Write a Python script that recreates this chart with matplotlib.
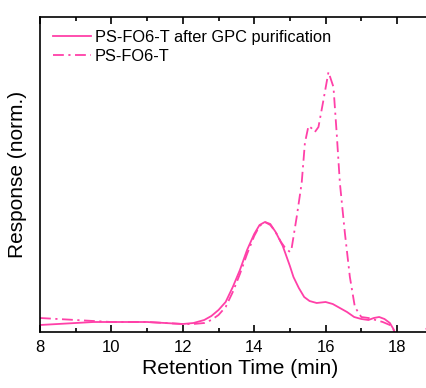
import numpy as np
import matplotlib
matplotlib.use('Agg')
import matplotlib.pyplot as plt
from matplotlib.ticker import MultipleLocator

plt.rcParams['font.family'] = ['Liberation Sans', 'DejaVu Sans']

# PS-FO6-T after GPC purification (solid)
t_gpc = [8.0, 8.5, 9.0, 9.5, 10.0, 10.5, 11.0, 11.5, 12.0, 12.3, 12.6, 12.8, 13.0, 13.2,
         13.4, 13.6, 13.8, 14.0, 14.15, 14.3, 14.45, 14.6, 14.8, 15.0, 15.1, 15.25, 15.4,
         15.55, 15.75, 16.0, 16.2, 16.4, 16.6, 16.8, 17.0, 17.2, 17.35, 17.5, 17.65, 17.8,
         17.9, 18.0, 18.3, 18.6, 18.8, 19.0]
r_gpc = [7, 8, 9, 10, 10, 10, 10, 9, 8, 9, 12, 16, 22, 30,
         45, 62, 82, 98, 107, 110, 108, 100, 86, 66, 55, 44, 35,
         31, 29, 30, 28, 24, 20, 15, 13, 12, 14, 15, 13, 9,
         3, -8, -20, -10, -2, 10]

# PS-FO6-T crude (dash-dot)
t_raw = [8.0, 8.5, 9.0, 9.5, 10.0, 10.5, 11.0, 11.5, 12.0, 12.3, 12.6, 12.8, 13.0, 13.2,
         13.4, 13.6, 13.8, 14.0, 14.15, 14.3, 14.45, 14.6, 14.75, 14.85, 15.0, 15.05, 15.19,
         15.33, 15.42, 15.52, 15.6, 15.7, 15.8, 15.94, 16.08, 16.22, 16.31, 16.4, 16.54,
         16.68, 16.82, 17.0, 17.2, 17.4, 17.6, 17.8, 17.95, 18.2, 18.6, 18.8, 19.0]
r_raw = [14, 13, 12, 11, 10, 10, 10, 9, 8, 8, 9, 12, 17, 25,
         40, 58, 78, 96, 106, 110, 107, 100, 90, 85, 80, 84, 115,
         149, 189, 206, 204, 200, 205, 232, 260, 245, 199, 149, 99,
         55, 25, 15, 14, 12, 10, 7, 0, -15, -10, 2, 12]

norm = 261.0
r_gpc = np.array(r_gpc) / norm
r_raw = np.array(r_raw) / norm

pink = '#ff40a8'

fig = plt.figure(figsize=(4.27, 3.88), dpi=100)
ax = fig.add_axes([40/427, 1 - 332/388, 400/427, 315/388])

ax.plot(t_gpc, r_gpc, '-', color=pink, lw=1.3, label='PS-FO6-T after GPC purification')
ax.plot(t_raw, r_raw, color=pink, lw=1.3, dashes=(6, 2.5, 1.2, 2.5), label='PS-FO6-T')

ax.set_xlim(8, 8 + 400/35.7)
ax.set_ylim(0, 315/norm)
ax.xaxis.set_major_locator(MultipleLocator(2))
ax.xaxis.set_minor_locator(MultipleLocator(1))
ax.tick_params(axis='x', which='both', direction='in', top=True, labelsize=12, width=1.2)
ax.tick_params(axis='x', which='major', length=5, pad=6)
ax.tick_params(axis='x', which='minor', length=3)
ax.set_yticks([])
ax.spines['right'].set_visible(False)
for s in ['left', 'top', 'bottom']:
    ax.spines[s].set_linewidth(1.2)

ax.set_xlabel('Retention Time (min)', fontsize=15.2, labelpad=3)
ax.set_ylabel('Response (norm.)', fontsize=15, labelpad=9)

ax.legend(loc='upper left', frameon=False, fontsize=11.8, handlelength=2.3,
          handletextpad=0.25, borderaxespad=0.4, labelspacing=0.25,
          bbox_to_anchor=(0.0, 1.0))

fig.savefig('out.png', dpi=100)
